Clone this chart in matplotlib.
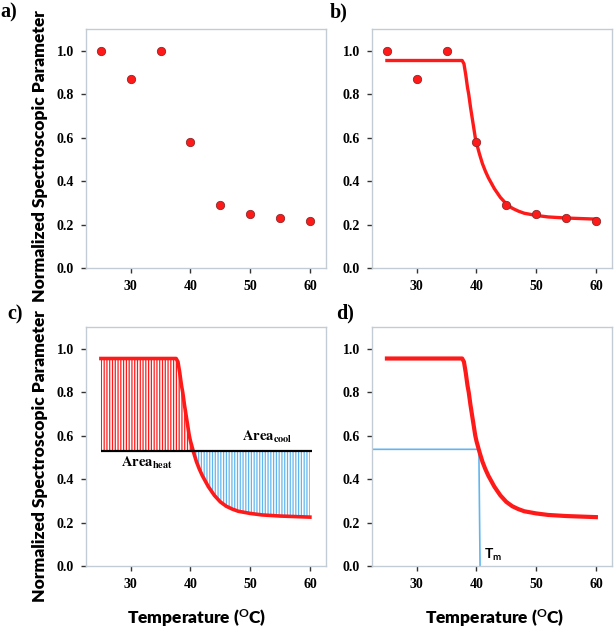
import matplotlib
matplotlib.use("Agg")
import matplotlib.pyplot as plt

plt.rcParams['font.family'] = 'Liberation Serif'
plt.rcParams['font.weight'] = 'bold'
plt.rcParams['hatch.linewidth'] = 0.9
plt.rcParams['mathtext.fontset'] = 'custom'
plt.rcParams['mathtext.rm'] = 'Lato:bold'
plt.rcParams['mathtext.bf'] = 'Lato:bold'
plt.rcParams['mathtext.it'] = 'Lato:bold'

# measured points
temp = [25, 30, 35, 40, 45, 50, 55, 60]
param = [1.0, 0.87, 0.997, 0.58, 0.291, 0.249, 0.231, 0.218]

# fitted curve
fit_t = [25, 37.6, 37.9, 38.2, 38.5, 38.7, 39.0, 39.4, 39.8, 40.0, 40.5, 41.0, 41.5,
         42.0, 42.5, 43.0, 44.0, 45.0, 46.0, 47.0, 48.0, 50.0, 52.0, 55.0, 60.0]
fit_y = [0.955, 0.955, 0.94, 0.89, 0.83, 0.80, 0.74, 0.67, 0.60, 0.575, 0.525, 0.48, 0.445,
         0.415, 0.39, 0.365, 0.325, 0.295, 0.275, 0.262, 0.252, 0.242, 0.235, 0.23, 0.225]

mid_level = 0.528
tm_x = [22.5, 40.4, 40.6]
tm_y = [0.537, 0.537, 0.0]

xticks = [30, 40, 50, 60]
yticks = [0.0, 0.2, 0.4, 0.6, 0.8, 1.0]

RED = '#ff1a1a'
BLUE = '#62b6ee'
FRAME = '#c3ccd5'

W, H = 614, 629
fig = plt.figure(figsize=(W / 100, H / 100), dpi=100)

def make_ax(left, top, right, bottom):
    ax = fig.add_axes([left / W, 1 - bottom / H, (right - left) / W, (bottom - top) / H])
    ax.set_xlim(22.5, 62.7)
    ax.set_ylim(0, 1.1)
    ax.set_xticks(xticks)
    ax.set_yticks(yticks)
    ax.set_yticklabels(['%.1f' % v for v in yticks])
    for s in ax.spines.values():
        s.set_color(FRAME)
        s.set_linewidth(1.0)
    ax.tick_params(direction='out', length=3.5, width=1.0, color='#333333', pad=5,
                   labelsize=10)
    return ax

ax_a = make_ax(86, 29, 326, 268)
ax_b = make_ax(372, 29, 612, 268)
ax_c = make_ax(86, 327, 326, 566)
ax_d = make_ax(372, 327, 612, 566)

mk = dict(marker='o', ls='none', ms=6, mfc=RED, mec='#8a2a2a', mew=0.6, zorder=4)

# a) data only
ax_a.plot(temp, param, **mk)

# b) data + fit
ax_b.plot(fit_t, fit_y, color=RED, lw=2.4, zorder=3)
ax_b.plot(temp, param, **mk)

# c) areas above / below the midpoint level
ax_c.fill_between(fit_t, fit_y, mid_level, where=[y >= mid_level for y in fit_y],
                  interpolate=True, facecolor='none', edgecolor=RED, hatch='||||||', linewidth=0)
ax_c.fill_between(fit_t, fit_y, mid_level, where=[y <= mid_level for y in fit_y],
                  interpolate=True, facecolor='none', edgecolor=BLUE, hatch='||||||', linewidth=0)
ax_c.hlines(mid_level, 25, 60.3, color='black', lw=1.6, zorder=4)
ax_c.plot(fit_t, fit_y, color=RED, lw=2.6, zorder=3)
ax_c.text(48.6, 0.593, r'$\mathbf{Area}_{\mathbf{cool}}$', math_fontfamily='stix',
          fontsize=10.5, ha='left', va='center')
ax_c.text(28.4, 0.473, r'$\mathbf{Area}_{\mathbf{heat}}$', math_fontfamily='stix',
          fontsize=10.5, ha='left', va='center')

# d) Tm construction
ax_d.plot(fit_t, fit_y, color=RED, lw=3.0, zorder=3)
ax_d.plot(tm_x, tm_y, color=BLUE, lw=1.2, zorder=2)
ax_d.text(41.3, 0.05, r'$\mathrm{T_m}$', fontsize=10, ha='left', va='center')

# axis labels
ylab = 'Normalized Spectroscopic Parameter'
lab_kw = dict(fontfamily='Lato', fontweight='heavy', fontsize=12.5)
fig.text(40 / W, 1 - 156 / H, ylab, rotation=90, ha='center', va='center', **lab_kw)
fig.text(40 / W, 1 - 456 / H, ylab, rotation=90, ha='center', va='center', **lab_kw)
xlab = r'Temperature ($\mathrm{^{O}}$C)'
fig.text(197 / W, 1 - 618 / H, xlab, ha='center', va='center', **lab_kw)
fig.text(495 / W, 1 - 618 / H, xlab, ha='center', va='center', **lab_kw)

# panel letters
for x, y, s in [(0, 12, 'a)'), (330, 12, 'b)'), (7, 314, 'c)'), (336, 313, 'd)')]:
    fig.text(x / W, 1 - y / H, s, ha='left', va='center', fontsize=14.5)

fig.savefig('out.png', dpi=100)
